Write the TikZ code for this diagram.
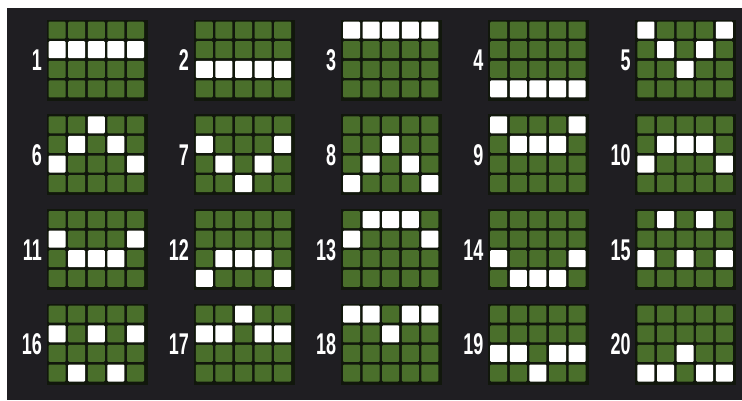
\documentclass[tikz,border=0pt]{standalone}
\usepackage{fontspec}
\setmainfont{Liberation Sans}
\definecolor{bgc}{HTML}{1F1E22}
\definecolor{cellg}{HTML}{4A6F2B}
\definecolor{gapc}{HTML}{11170C}
\tikzset{
  cellbox/.style={fill=cellg, rounded corners=1pt},
  hitbox/.style={fill=white, rounded corners=1pt},
  panelback/.style={fill=gapc},
  numlabel/.style={text=white, anchor=east, inner sep=0pt, font=\fontsize{30}{30}\selectfont\bfseries},
}
\begin{document}
\begin{tikzpicture}[x=1pt,y=-1pt]
\useasboundingbox (0,0) rectangle (742,400);
\fill[bgc] (0,0) rectangle (742,400);
\fill[white] (0,0) rectangle (742,7.5);
\fill[white] (0,0) rectangle (7,400);
\foreach \n/\a/\b/\cc/\d/\e [count=\i from 0] in {
  1/1/1/1/1/1, 2/2/2/2/2/2, 3/0/0/0/0/0, 4/3/3/3/3/3, 5/0/1/2/1/0,
  6/2/1/0/1/2, 7/1/2/3/2/1, 8/3/2/1/2/3, 9/0/1/1/1/0, 10/2/1/1/1/2,
  11/1/2/2/2/1, 12/3/2/2/2/3, 13/1/0/0/0/1, 14/2/3/3/3/2, 15/2/0/2/0/2,
  16/1/3/1/3/1, 17/1/1/0/1/1, 18/0/0/1/0/0, 19/2/2/3/2/2, 20/3/3/2/3/3} {
  \pgfmathtruncatemacro\colno{mod(\i,5)}
  \pgfmathtruncatemacro\rowno{div(\i,5)}
  \pgfmathsetmacro\px{48+147.2*\colno}
  \pgfmathsetmacro\py{21+94.7*\rowno}
  \fill[panelback] (\px-1.5,\py-1.5) rectangle (\px+99.5,\py+79.5);
  \foreach \k [count=\j from 0] in {\a,\b,\cc,\d,\e} {
    \foreach \rr in {0,1,2,3} {
      \pgfmathsetmacro\cx{\px+19.6*\j}
      \pgfmathsetmacro\cy{\py+19.6*\rr}
      \ifnum\rr=\k
        \fill[hitbox] (\cx+0.6,\cy+0.6) rectangle (\cx+17.6,\cy+17.6);
      \else
        \fill[cellbox] (\cx+0.6,\cy+0.6) rectangle (\cx+17.6,\cy+17.6);
      \fi
    }
  }
  \node[numlabel] (L\n) at (\px-6,\py+39.5) {\scalebox{0.6}[1]{\n}};
}
\end{tikzpicture}
\end{document}
